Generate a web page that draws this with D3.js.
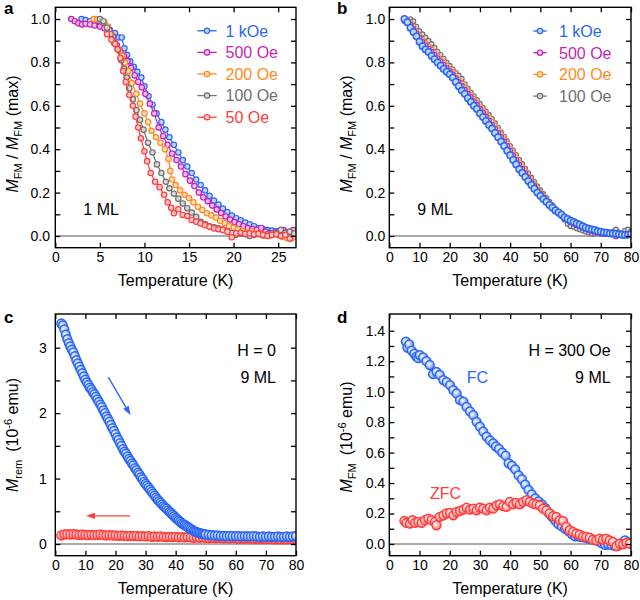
<!DOCTYPE html>
<html><head><meta charset="utf-8">
<script src="https://cdn.jsdelivr.net/npm/d3@7"></script>
<style>body{margin:0;background:#fff} svg{display:block} text{font-family:"Liberation Sans",Arial,Helvetica,sans-serif}</style>
</head><body><svg id="chart" width="640" height="600"></svg>
<script>
// ---------------- DATA ----------------
// Panel a: 1 ML, normalized M vs T  ([T (K), M/Mmax])
const a_1kOe = [[2.95,1.0],[3.4,0.995],[3.9,0.99],[4.4,0.98],[5.0,0.97],[5.55,0.96],[6.1,0.95],[6.7,0.935],[7.1,0.915],[7.45,0.915],[7.75,0.865],[8.05,0.835],[8.4,0.805],[8.8,0.78],[9.2,0.757],[9.65,0.73],[10.0,0.69],[10.45,0.645],[10.9,0.605],[11.35,0.565],[11.9,0.525],[12.35,0.49],[12.8,0.455],[13.3,0.42],[13.8,0.385],[14.3,0.35],[14.8,0.32],[15.3,0.29],[15.8,0.26],[16.3,0.235],[16.8,0.21],[17.3,0.185],[17.8,0.163],[18.3,0.145],[18.8,0.126],[19.3,0.11],[19.8,0.094],[20.3,0.082],[20.8,0.072],[21.3,0.062],[21.8,0.054],[22.3,0.045],[22.8,0.037],[23.3,0.032],[23.8,0.027],[24.3,0.025],[24.8,0.022],[25.3,0.023],[25.8,0.018],[26.3,0.013],[26.8,0.0]];
const a_500Oe = [[1.8,1.0],[2.2,0.99],[2.6,0.98],[3.0,0.975],[3.4,0.978],[3.9,0.975],[4.4,0.97],[5.0,0.965],[5.5,0.957],[6.1,0.945],[6.5,0.92],[6.9,0.88],[7.3,0.85],[7.7,0.83],[8.1,0.805],[8.5,0.775],[8.9,0.74],[9.3,0.71],[9.7,0.685],[10.1,0.655],[10.6,0.61],[11.1,0.565],[11.6,0.5],[12.1,0.46],[12.6,0.42],[13.1,0.38],[13.6,0.35],[14.1,0.32],[14.6,0.285],[15.1,0.255],[15.6,0.23],[16.1,0.2],[16.6,0.178],[17.1,0.16],[17.6,0.14],[18.1,0.122],[18.6,0.106],[19.1,0.09],[19.6,0.076],[20.1,0.064],[20.6,0.055],[21.1,0.045],[21.6,0.036],[22.1,0.032],[22.6,0.028],[23.1,0.037],[23.6,0.02],[24.1,0.013],[24.6,0.017],[25.1,0.023],[25.6,0.027],[26.1,0.018],[26.7,0.027]];
const a_200Oe = [[4.3,1.0],[4.7,1.0],[5.1,0.995],[5.5,0.985],[5.9,0.965],[6.3,0.93],[6.7,0.89],[7.1,0.86],[7.5,0.83],[7.8,0.8],[8.2,0.76],[8.6,0.705],[9.1,0.655],[9.5,0.61],[10.0,0.565],[10.4,0.525],[10.8,0.485],[11.3,0.455],[11.8,0.43],[12.3,0.4],[12.7,0.355],[12.9,0.3],[13.1,0.26],[13.5,0.235],[14.0,0.21],[14.5,0.19],[15.0,0.175],[15.5,0.155],[16.0,0.135],[16.5,0.12],[17.0,0.105],[17.5,0.095],[18.0,0.085],[18.5,0.07],[19.0,0.06],[19.5,0.045],[20.0,0.038],[20.5,0.03],[21.0,0.023],[21.5,0.015],[22.0,0.02],[22.5,0.01],[23.0,0.012],[23.5,0.005],[24.0,0.0],[24.5,0.012],[25.0,0.005],[25.5,-0.005],[26.0,-0.01],[26.5,-0.012],[26.9,-0.003]];
const a_100Oe = [[5.0,1.0],[5.4,0.99],[5.8,0.96],[6.2,0.93],[6.6,0.89],[7.0,0.86],[7.4,0.81],[7.7,0.77],[8.0,0.73],[8.3,0.68],[8.7,0.63],[9.1,0.58],[9.5,0.535],[9.9,0.49],[10.4,0.43],[10.9,0.385],[11.4,0.33],[11.9,0.29],[12.4,0.25],[12.8,0.22],[13.3,0.195],[13.8,0.172],[14.3,0.15],[14.8,0.128],[15.3,0.108],[15.8,0.088],[16.3,0.065],[16.8,0.055],[17.3,0.045],[17.8,0.04],[18.3,0.035],[18.8,0.03],[19.3,0.022],[19.8,0.013],[20.3,0.006],[20.8,0.012],[21.3,0.008],[21.8,0.0],[22.3,0.005],[22.8,0.008],[23.3,0.002],[23.8,0.008],[24.3,0.012],[24.8,0.012],[25.3,0.028],[25.8,0.015],[26.3,0.02],[26.8,0.012]];
const a_50Oe = [[5.8,0.93],[6.3,0.905],[6.7,0.885],[7.0,0.86],[7.3,0.82],[7.6,0.76],[7.9,0.71],[8.3,0.65],[8.7,0.6],[9.0,0.55],[9.3,0.5],[9.6,0.45],[10.0,0.39],[10.3,0.345],[10.7,0.29],[11.2,0.25],[11.7,0.225],[12.2,0.19],[12.6,0.155],[13.0,0.13],[13.3,0.105],[13.8,0.123],[14.3,0.097],[14.8,0.092],[15.3,0.074],[15.8,0.066],[16.3,0.058],[16.8,0.05],[17.3,0.043],[17.8,0.035],[18.3,0.031],[18.8,0.028],[19.3,0.02],[19.8,-0.006],[20.3,0.012],[20.8,0.015],[21.3,0.01],[21.8,0.012],[22.3,0.008],[22.8,0.01],[23.3,0.005],[23.8,0.0],[24.3,0.005],[24.8,0.008],[25.3,0.0],[25.8,0.005],[26.3,-0.012]];

// Panel b: 9 ML, normalized M vs T on a common temperature grid
const b_T = [5,6,7,8,9,10,11,12,13,14,15,16,17,18,19,20,21,22,23,24,25,26,27,28,29,30,31,32,33,34,35,36,37,38,39,40,41,42,43,44,45,46,47,48,49,50,51,52,53,54,55,56,57,58,59,60,61,62,63,64,65,66,67,68,69,70,71,72,73,74,75,76,77,78,79,80];
const b_1kOe = [1.0,0.985,0.96,0.94,0.92,0.895,0.875,0.86,0.848,0.83,0.815,0.8,0.785,0.77,0.757,0.745,0.73,0.71,0.69,0.67,0.655,0.635,0.618,0.6,0.585,0.565,0.548,0.53,0.512,0.495,0.475,0.455,0.435,0.415,0.393,0.372,0.35,0.33,0.308,0.29,0.272,0.253,0.235,0.218,0.2,0.185,0.17,0.158,0.143,0.13,0.118,0.108,0.098,0.085,0.078,0.07,0.065,0.058,0.052,0.045,0.038,0.033,0.03,0.028,0.022,0.02,0.016,0.015,0.012,0.012,0.01,0.008,0.006,0.005,0.006,0.008];
const b_500Oe = [1.0,0.99,0.975,0.955,0.935,0.915,0.895,0.88,0.865,0.85,0.835,0.82,0.805,0.79,0.775,0.76,0.745,0.728,0.71,0.692,0.675,0.657,0.64,0.622,0.605,0.587,0.57,0.552,0.533,0.515,0.496,0.477,0.457,0.437,0.416,0.395,0.373,0.352,0.33,0.31,0.29,0.27,0.25,0.232,0.212,0.195,0.178,0.16,0.145,0.13,0.118,0.104,0.092,0.08,0.072,0.063,0.056,0.05,0.044,0.038,0.033,0.028,0.022,0.02,0.017,0.013,0.012,0.01,0.008,0.006,-0.002,0.004,0.006,0.003,0.005,0.004];
const b_200Oe = [1.0,0.995,0.985,0.965,0.945,0.925,0.905,0.89,0.875,0.86,0.845,0.83,0.815,0.8,0.785,0.77,0.755,0.738,0.72,0.703,0.686,0.668,0.65,0.633,0.615,0.598,0.58,0.562,0.545,0.527,0.508,0.488,0.468,0.447,0.426,0.404,0.383,0.362,0.34,0.32,0.3,0.28,0.26,0.24,0.222,0.203,0.186,0.168,0.152,0.138,0.124,0.11,0.097,0.086,0.076,0.067,0.059,0.052,0.045,0.04,0.034,0.029,0.025,0.021,0.018,0.015,0.013,0.011,0.01,0.009,0.008,0.007,0.006,0.006,0.005,0.005];
const b_100Oe = [0.99,0.985,1.0,0.99,0.965,0.945,0.93,0.915,0.9,0.885,0.868,0.85,0.835,0.818,0.8,0.785,0.768,0.752,0.74,0.725,0.7,0.68,0.662,0.645,0.628,0.61,0.592,0.575,0.558,0.54,0.52,0.5,0.478,0.458,0.437,0.415,0.395,0.374,0.352,0.332,0.31,0.29,0.27,0.25,0.23,0.212,0.194,0.176,0.158,0.142,0.125,0.11,0.093,0.075,0.055,0.045,0.042,0.035,0.03,0.025,0.02,0.015,0.01,0.012,0.015,0.01,0.008,0.012,0.015,0.02,0.03,0.018,0.012,0.025,0.03,0.02];

// Panel c: remanent magnetization (10^-6 emu), H = 0   ([T (K), M])
const c_down = [[2,3.37],[2.5,3.34],[3,3.28],[3.5,3.2],[4,3.13],[4.5,3.07],[5,3.02],[5.5,2.97],[6,2.93],[6.5,2.87],[7,2.81],[7.5,2.76],[8,2.71],[8.5,2.66],[9,2.61],[9.5,2.56],[10,2.51],[10.5,2.47],[11,2.43],[11.5,2.39],[12,2.36],[12.5,2.32],[13,2.29],[13.5,2.25],[14,2.21],[14.5,2.17],[15,2.13],[15.5,2.09],[16,2.04],[16.5,2.0],[17,1.95],[17.5,1.91],[18,1.87],[18.5,1.82],[19,1.77],[19.5,1.73],[20,1.68],[20.5,1.63],[21,1.59],[21.5,1.54],[22,1.5],[22.5,1.45],[23,1.41],[23.5,1.38],[24,1.34],[24.5,1.3],[25,1.27],[25.5,1.23],[26,1.2],[26.5,1.16],[27,1.13],[27.5,1.09],[28,1.06],[28.5,1.02],[29,0.99],[29.5,0.95],[30,0.92],[30.5,0.89],[31,0.86],[31.5,0.83],[32,0.8],[32.5,0.77],[33,0.74],[33.5,0.71],[34,0.68],[34.5,0.655],[35,0.63],[35.5,0.605],[36,0.58],[36.5,0.56],[37,0.54],[37.5,0.515],[38,0.49],[38.5,0.47],[39,0.45],[39.5,0.425],[40,0.4],[40.5,0.38],[41,0.36],[41.5,0.34],[42,0.32],[42.5,0.305],[43,0.29],[43.5,0.275],[44,0.26],[44.5,0.245],[45,0.23],[45.5,0.215],[46,0.2],[46.5,0.19],[47,0.18],[47.5,0.172],[48,0.165],[48.5,0.16],[49,0.155],[49.5,0.15],[50,0.145],[51,0.14],[52,0.135],[53,0.13],[54,0.13],[55,0.125],[56,0.125],[57,0.12],[58,0.125],[59,0.12],[60,0.12],[61,0.12],[62,0.115],[63,0.12],[64,0.115],[65,0.115],[66,0.12],[67,0.115],[68,0.11],[69,0.115],[70,0.11],[71,0.115],[72,0.11],[73,0.11],[74,0.115],[75,0.11],[76,0.11],[77,0.115],[78,0.11],[79,0.115],[80,0.12]];
const c_T = [2,3,4,5,6,7,8,9,10,11,12,13,14,15,16,17,18,19,20,21,22,23,24,25,26,27,28,29,30,31,32,33,34,35,36,37,38,39,40,41,42,43,44,45,46,47,48,49,50,51,52,53,54,55,56,57,58,59,60,61,62,63,64,65,66,67,68,69,70,71,72,73,74,75,76,77,78,79,80];
const c_up = [0.13,0.145,0.15,0.145,0.15,0.145,0.14,0.145,0.14,0.135,0.14,0.135,0.14,0.145,0.135,0.13,0.135,0.13,0.13,0.125,0.13,0.125,0.12,0.125,0.12,0.125,0.115,0.12,0.115,0.12,0.11,0.115,0.11,0.115,0.11,0.105,0.11,0.105,0.11,0.1,0.105,0.1,0.105,0.1,0.095,0.1,0.095,0.1,0.095,0.09,0.095,0.09,0.095,0.09,0.085,0.09,0.085,0.09,0.085,0.08,0.085,0.08,0.085,0.08,0.075,0.08,0.075,0.08,0.075,0.08,0.075,0.07,0.075,0.07,0.075,0.07,0.075,0.07,0.075];
const c_arrows = [{from:[17.6,2.55],to:[25.0,1.97],color:"blue"},{from:[24.8,0.43],to:[10.2,0.43],color:"red"}];

// Panel d: FC / ZFC at H = 300 Oe (10^-6 emu)
const d_FC = [[5.5,1.328],[6.0,1.29],[6.6,1.31],[7.4,1.27],[8.3,1.25],[9.0,1.23],[9.6,1.22],[10.1,1.24],[11.2,1.225],[12.3,1.2],[13.4,1.175],[14.5,1.115],[15.6,1.13],[16.7,1.11],[17.9,1.076],[19.0,1.062],[20.1,1.043],[21.2,1.01],[22.3,0.988],[23.4,0.945],[24.5,0.935],[25.6,0.9],[26.7,0.87],[27.8,0.846],[28.9,0.802],[30.0,0.77],[31.1,0.738],[32.2,0.705],[33.3,0.68],[34.4,0.66],[35.3,0.64],[36.3,0.625],[37.4,0.6],[38.5,0.58],[39.5,0.53],[40.6,0.515],[41.7,0.49],[42.8,0.45],[43.9,0.425],[45.0,0.39],[46.1,0.355],[47.2,0.325],[48.3,0.3],[49.4,0.28],[50.5,0.26],[51.6,0.235],[52.7,0.205],[53.8,0.18],[54.9,0.155],[56.0,0.13],[57.1,0.115],[58.2,0.1],[59.3,0.085],[60.4,0.065],[61.5,0.05],[62.6,0.05],[63.7,0.045],[64.8,0.042],[65.9,0.036],[67.0,0.03],[68.1,0.025],[69.2,0.018],[70.3,0.006],[71.4,-0.005],[72.5,-0.004],[73.6,-0.008],[74.7,-0.012],[75.8,-0.01],[76.9,0.005],[78.0,0.024],[79.1,0.01],[80.0,0.002]];
const d_ZFC = [[5.0,0.151],[5.7,0.138],[6.8,0.134],[7.7,0.156],[8.5,0.138],[9.6,0.145],[10.7,0.138],[11.8,0.156],[12.9,0.167],[14.0,0.156],[15.1,0.145],[15.6,0.123],[16.7,0.178],[17.9,0.188],[19.0,0.2],[20.1,0.204],[21.2,0.188],[22.3,0.21],[23.4,0.217],[24.5,0.226],[25.6,0.239],[26.7,0.226],[27.8,0.232],[28.9,0.221],[30.0,0.239],[31.1,0.232],[32.2,0.221],[33.3,0.239],[34.4,0.232],[35.5,0.254],[36.6,0.26],[37.7,0.248],[38.8,0.243],[39.9,0.276],[41.0,0.26],[42.1,0.27],[43.2,0.26],[44.3,0.276],[45.4,0.287],[46.5,0.276],[47.6,0.265],[48.7,0.26],[49.8,0.254],[50.9,0.232],[52.0,0.221],[53.1,0.2],[54.2,0.182],[55.3,0.178],[56.4,0.156],[57.5,0.151],[58.6,0.112],[59.7,0.09],[60.8,0.079],[61.9,0.068],[63.0,0.061],[64.1,0.05],[65.2,0.046],[66.3,0.042],[67.4,0.028],[68.5,0.024],[69.6,0.035],[70.7,0.028],[71.8,0.035],[72.9,0.024],[74.0,0.013],[75.2,-0.015],[76.3,0.002],[77.4,-0.002],[78.5,0.007],[79.6,0.002]];

// tick values
const ticksX27 = [0,5,10,15,20,25];
const ticksX80 = [0,10,20,30,40,50,60,70,80];
const ticksYab = [0,0.2,0.4,0.6,0.8,1.0];
const minorYab = [0.1,0.3,0.5,0.7,0.9];
const ticksYc = [0,1,2,3];
const minorYc = [0.5,1.5,2.5];
const ticksYd = [0,0.2,0.4,0.6,0.8,1.0,1.2,1.4];
const minorYd = [0.1,0.3,0.5,0.7,0.9,1.1,1.3];
const legendA = ["1 kOe","500 Oe","200 Oe","100 Oe","50 Oe"];
const legendB = ["1 kOe","500 Oe","200 Oe","100 Oe"];

// ---------------- STYLE ----------------
const COL = {blue:"#2a66f4", magenta:"#c81fb6", orange:"#ff8a1c", gray:"#707070", red:"#ff3d3d"};
const svg = d3.select("#chart");
const defs = svg.append("defs");
function grad(id, c){
  const g = defs.append("radialGradient").attr("id",id).attr("cx","40%").attr("cy","40%").attr("r","60%");
  g.append("stop").attr("offset","0%").attr("stop-color","#ffffff");
  g.append("stop").attr("offset","55%").attr("stop-color",d3.interpolateRgb(c,"#ffffff")(0.6));
  g.append("stop").attr("offset","100%").attr("stop-color",d3.interpolateRgb(c,"#ffffff")(0.3));
}
grad("gBlue", COL.blue); grad("gRed", COL.red);
let clipN = 0;

function panel(o){
  const x = d3.scaleLinear().domain(o.xd).range([o.l,o.r]);
  const y = d3.scaleLinear().domain(o.yd).range([o.b,o.t]);
  const g = svg.append("g");
  const cid = "clip"+(clipN++);
  defs.append("clipPath").attr("id",cid).append("rect").attr("x",o.l).attr("y",o.t).attr("width",o.r-o.l).attr("height",o.b-o.t);
  g.append("line").attr("x1",o.l).attr("x2",o.r).attr("y1",y(0)).attr("y2",y(0))
    .attr("stroke","#8e8e8e").attr("stroke-width",1.5);
  const data = g.append("g").attr("clip-path",`url(#${cid})`);
  g.append("rect").attr("x",o.l).attr("y",o.t).attr("width",o.r-o.l).attr("height",o.b-o.t)
    .attr("fill","none").attr("stroke","#000").attr("stroke-width",1.4);
  const tk = 5;
  const style = sel => { sel.select(".domain").remove(); sel.selectAll(".tick line").attr("stroke","#000").attr("stroke-width",1.3);
    sel.selectAll(".tick text").attr("font-size",14).attr("fill","#000").attr("font-family","'Liberation Sans',Arial,sans-serif"); };
  g.append("g").attr("transform",`translate(0,${o.b})`)
    .call(d3.axisBottom(x).tickValues(o.xt).tickSize(-tk).tickPadding(4.5).tickFormat(d3.format("d"))).call(style);
  g.append("g").attr("transform",`translate(0,${o.t})`)
    .call(d3.axisTop(x).tickValues(o.xt).tickSize(-tk).tickFormat("")).call(style);
  g.append("g").attr("transform",`translate(${o.l},0)`)
    .call(d3.axisLeft(y).tickValues(o.yt).tickSize(-tk).tickPadding(o.ypad).tickFormat(d3.format(o.yf))).call(style);
  g.append("g").attr("transform",`translate(${o.l},0)`)
    .call(d3.axisLeft(y).tickValues(o.ym).tickSize(-tk).tickFormat("")).call(style);
  g.append("g").attr("transform",`translate(${o.r},0)`)
    .call(d3.axisRight(y).tickValues(o.yt.concat(o.ym)).tickSize(-tk).tickFormat("")).call(style);
  g.append("text").attr("x",(o.l+o.r)/2).attr("y",o.b+38.5).attr("text-anchor","middle")
    .attr("font-size",16).text("Temperature (K)");
  g.append("text").attr("x",o.lx).attr("y",o.ly).attr("font-size",17).attr("font-weight","bold").text(o.letter);
  const yt = g.append("text").attr("transform",`translate(${o.yx},${o.yc}) rotate(-90)`)
    .attr("text-anchor","middle").attr("font-size",16);
  o.ylab(yt);
  return {g, data, x, y};
}

function lineSeries(p, pts, color, r, sw, lw){
  const line = d3.line().x(d=>p.x(d[0])).y(d=>p.y(d[1]));
  const gg = p.data.append("g");
  gg.append("path").datum(pts).attr("d",line).attr("fill","none").attr("stroke",color).attr("stroke-width",lw);
  gg.append("g").selectAll("circle").data(pts).join("circle")
    .attr("cx",d=>p.x(d[0])).attr("cy",d=>p.y(d[1])).attr("r",r)
    .attr("fill",d3.interpolateRgb(color,"#ffffff")(0.72)).attr("stroke",color).attr("stroke-width",sw);
}
function ballSeries(p, pts, color, fillId){
  p.data.append("g").selectAll("circle").data(pts).join("circle")
    .attr("cx",d=>p.x(d[0])).attr("cy",d=>p.y(d[1])).attr("r",4.4)
    .attr("fill",`url(#${fillId})`).attr("stroke",color).attr("stroke-width",1.5);
}
function legend(p, labels, colors, lx0, lx1, tx, y0, dy, r){
  labels.forEach((lab,i)=>{
    const yy = y0 + i*dy;
    p.g.append("line").attr("x1",lx0).attr("x2",lx1).attr("y1",yy).attr("y2",yy).attr("stroke",colors[i]).attr("stroke-width",1.3);
    p.g.append("circle").attr("cx",(lx0+lx1)/2).attr("cy",yy).attr("r",r)
      .attr("fill",d3.interpolateRgb(colors[i],"#ffffff")(0.72)).attr("stroke",colors[i]).attr("stroke-width",1.2);
    p.g.append("text").attr("x",tx).attr("y",yy+5.8).attr("font-size",16).attr("fill",colors[i]).text(lab);
  });
}
function fmLabel(t, normalized){
  t.append("tspan").attr("font-style","italic").text("M");
  t.append("tspan").attr("font-size",11).attr("dy",4).text("FM");
  if(normalized){
    t.append("tspan").attr("dy",-4).text(" / ");
    t.append("tspan").attr("font-style","italic").text("M");
    t.append("tspan").attr("font-size",11).attr("dy",4).text("FM");
    t.append("tspan").attr("dy",-4).text(" (max)");
  } else {
    t.append("tspan").attr("dy",-4).attr("dx",8).text("(10");
    t.append("tspan").attr("font-size",11).attr("dy",-6).text("-6");
    t.append("tspan").attr("dy",6).text(" emu)");
  }
}

// ---------- Panel a ----------
const pa = panel({l:55.3,r:296,t:7.3,b:247.7,xd:[0,27],yd:[-0.054,1.054],xt:ticksX27,yt:ticksYab,ym:minorYab,yf:".1f",ypad:5.3,
  letter:"a",lx:4,ly:14,yx:18,yc:134,ylab:t=>fmLabel(t,true)});
const aSeries = [a_1kOe,a_500Oe,a_200Oe,a_100Oe,a_50Oe];
const aCols = [COL.blue,COL.magenta,COL.orange,COL.gray,COL.red];
aSeries.forEach((s,i)=>lineSeries(pa,s,aCols[i],2.7,1.2,1.2));
legend(pa, legendA, aCols, 197.3, 216.7, 225.5, 30.8, 21.6, 2.7);
pa.g.append("text").attr("x",83.3).attr("y",215).attr("font-size",16).text("1 ML");

// ---------- Panel b ----------
const pb = panel({l:389.3,r:631,t:7.3,b:247.7,xd:[0,80],yd:[-0.054,1.054],xt:ticksX80,yt:ticksYab,ym:minorYab,yf:".1f",ypad:4,
  letter:"b",lx:337,ly:14,yx:352,yc:134,ylab:t=>fmLabel(t,true)});
const zipT = (T,V)=>T.map((t,i)=>[t,V[i]]);
lineSeries(pb, zipT(b_T,b_100Oe), COL.gray, 2.3, 1.1, 1.1);
lineSeries(pb, zipT(b_T,b_200Oe), COL.orange, 2.3, 1.1, 1.1);
lineSeries(pb, zipT(b_T,b_500Oe), COL.magenta, 2.3, 1.1, 1.1);
lineSeries(pb, zipT(b_T,b_1kOe), COL.blue, 3.2, 1.5, 1.2);
legend(pb, legendB, [COL.blue,COL.magenta,COL.orange,COL.gray], 533.3, 546.7, 559, 31, 21.7, 2.7);
pb.g.append("text").attr("x",417.3).attr("y",215).attr("font-size",16).text("9 ML");

// ---------- Panel c ----------
const pc = panel({l:55.3,r:296,t:314,b:555.7,xd:[0,80],yd:[-0.179,3.515],xt:ticksX80,yt:ticksYc,ym:minorYc,yf:"d",ypad:8.6,
  letter:"c",lx:4,ly:322.5,yx:18,yc:435,ylab:t=>{
    t.append("tspan").attr("font-style","italic").text("M");
    t.append("tspan").attr("font-size",11).attr("dy",4).text("rem");
    t.append("tspan").attr("dy",-4).attr("dx",8).text("(10");
    t.append("tspan").attr("font-size",11).attr("dy",-6).text("-6");
    t.append("tspan").attr("dy",6).text(" emu)");
  }});
ballSeries(pc, zipT(c_T,c_up), COL.red, "gRed");
ballSeries(pc, c_down, COL.blue, "gBlue");
c_arrows.forEach(a=>{
  const c = COL[a.color];
  const x1=pc.x(a.from[0]), y1=pc.y(a.from[1]), x2=pc.x(a.to[0]), y2=pc.y(a.to[1]);
  const ang = Math.atan2(y2-y1,x2-x1), L=9, W=3.2;
  const bx = x2-L*Math.cos(ang), by = y2-L*Math.sin(ang);
  pc.g.append("line").attr("x1",x1).attr("y1",y1).attr("x2",bx).attr("y2",by).attr("stroke",c).attr("stroke-width",1.4);
  pc.g.append("path").attr("fill",c).attr("d",`M${x2},${y2}L${bx-W*Math.sin(ang)},${by+W*Math.cos(ang)}L${bx+W*Math.sin(ang)},${by-W*Math.cos(ang)}Z`);
});
pc.g.append("text").attr("x",276).attr("y",356).attr("text-anchor","end").attr("font-size",16).text("H = 0");
pc.g.append("text").attr("x",276).attr("y",383.3).attr("text-anchor","end").attr("font-size",16).text("9 ML");

// ---------- Panel d ----------
const pd = panel({l:389.3,r:631,t:314,b:555.7,xd:[0,80],yd:[-0.077,1.51],xt:ticksX80,yt:ticksYd,ym:minorYd,yf:".1f",ypad:4.2,
  letter:"d",lx:337,ly:322.5,yx:352,yc:437,ylab:t=>fmLabel(t,false)});
ballSeries(pd, d_FC, COL.blue, "gBlue");
ballSeries(pd, d_ZFC, COL.red, "gRed");
pd.g.append("text").attr("x",610.7).attr("y",356).attr("text-anchor","end").attr("font-size",16).text("H = 300 Oe");
pd.g.append("text").attr("x",610.7).attr("y",383.3).attr("text-anchor","end").attr("font-size",16).text("9 ML");
pd.g.append("text").attr("x",466.7).attr("y",382.7).attr("font-size",16).attr("fill",COL.blue).text("FC");
pd.g.append("text").attr("x",430).attr("y",499).attr("font-size",16).attr("fill",COL.red).text("ZFC");
</script></body></html>
